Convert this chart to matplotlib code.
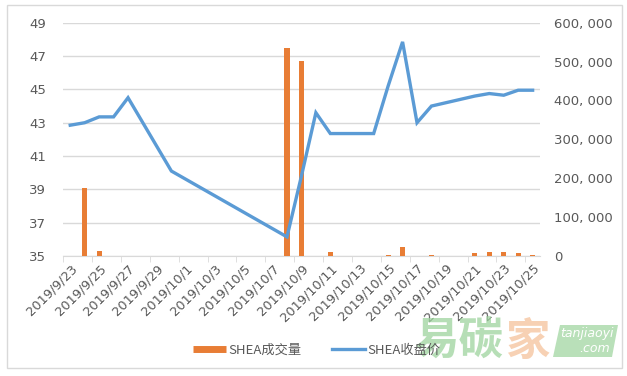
import matplotlib
matplotlib.use("Agg")
import matplotlib.pyplot as plt
import pandas as pd
from matplotlib.lines import Line2D
from matplotlib.patches import Rectangle, Polygon

plt.rcParams["font.family"] = ["Noto Sans CJK SC", "DejaVu Sans"]

# 收盘价 (左轴)
price_dates = ["2019-09-23", "2019-09-24", "2019-09-25", "2019-09-26", "2019-09-27",
               "2019-09-30", "2019-10-08", "2019-10-09", "2019-10-10", "2019-10-11",
               "2019-10-14", "2019-10-15", "2019-10-16", "2019-10-17", "2019-10-18",
               "2019-10-21", "2019-10-22", "2019-10-23", "2019-10-24", "2019-10-25"]
price = [42.85, 43.0, 43.35, 43.35, 44.5,
         40.1, 36.15, 39.8, 43.6, 42.35,
         42.35, 45.2, 47.85, 43.0, 44.0,
         44.6, 44.75, 44.65, 44.95, 44.95]

# 成交量 (右轴)
vol_dates = ["2019-09-24", "2019-09-25", "2019-10-08", "2019-10-09", "2019-10-11",
             "2019-10-15", "2019-10-16", "2019-10-18", "2019-10-21", "2019-10-22",
             "2019-10-23", "2019-10-24", "2019-10-25"]
volume = [174000, 13000, 535000, 501000, 11000,
          4000, 22000, 3000, 8000, 11000,
          11000, 8000, 4000]

left_ticks = [35, 37, 39, 41, 43, 45, 47, 49]
right_ticks = [0, 100000, 200000, 300000, 400000, 500000, 600000]

orange = "#E87D35"
blue = "#5B9BD5"
grey_txt = "#595959"
grid_c = "#D9D9D9"

px = pd.to_datetime(price_dates)
vx = pd.to_datetime(vol_dates)
start, end = pd.Timestamp("2019-09-23"), pd.Timestamp("2019-10-25")
half = pd.Timedelta(hours=12)

fig = plt.figure(figsize=(6.27, 3.76), dpi=100)
ax = fig.add_axes([0.1005, 0.319, 0.7605, 0.6206])
ax2 = ax.twinx()
ax3 = ax.twinx()

# 左轴: 价格刻度与网格
ax.set_ylim(35, 49)
ax.set_yticks(left_ticks)
ax.set_yticklabels([str(t) for t in left_ticks], fontsize=9.5, color=grey_txt,
                   family="DejaVu Sans")
ax.grid(axis="y", color=grid_c, lw=1)
ax.set_axisbelow(True)

# 右轴: 成交量柱
ax2.bar(vx, volume, width=0.36, color=orange, zorder=2)
ax2.set_ylim(0, 600000)
ax2.set_yticks(right_ticks)
ax2.set_yticklabels([f"{t:,}".replace(",", ", ") for t in right_ticks],
                    fontsize=9.5, color=grey_txt, family="DejaVu Sans")

# 收盘价折线
ax3.plot(px, price, color=blue, lw=2.4, solid_joinstyle="miter")
ax3.set_ylim(35, 49)
ax3.axis("off")

for a in (ax, ax2, ax3):
    a.set_xlim(start - half, end + half)
    for s in ("top", "left", "right", "bottom"):
        a.spines[s].set_visible(False)
ax.spines["bottom"].set_visible(True)
ax.spines["bottom"].set_color(grid_c)
ax.tick_params(axis="y", length=0, pad=12)
ax2.tick_params(axis="y", length=0, pad=10)
ax2.tick_params(axis="x", which="both", bottom=False, labelbottom=False)

tick_days = pd.date_range(start, end, freq="2D")
ax.set_xticks(tick_days)
ax.set_xticklabels([f"{d.year}/{d.month}/{d.day}" for d in tick_days],
                   rotation=45, ha="right", va="top", rotation_mode="anchor",
                   fontsize=9.3, color=grey_txt, family="DejaVu Sans")
ax.set_xticks(tick_days - half, minor=True)
ax.tick_params(axis="x", which="major", length=0, pad=4)
ax.tick_params(axis="x", which="minor", length=4, color=grid_c)

# 图例
handles = [Line2D([], [], color=orange, lw=5, solid_capstyle="butt"),
           Line2D([], [], color=blue, lw=2.4)]
fig.legend(handles, ["SHEA成交量", "SHEA收盘价"], loc="center",
           bbox_to_anchor=(0.505, 0.069), ncol=2, frameon=False,
           fontsize=9.5, handlelength=2.5, handletextpad=0.2, columnspacing=2.3,
           labelcolor=grey_txt)

# 外框
fig.patches.append(Rectangle((7 / 627, 1 - 368 / 376), 615 / 627, 363 / 376,
                             transform=fig.transFigure, fill=False,
                             edgecolor=grid_c, lw=1))

# 水印
fig.text(414 / 627, 1 - 342 / 376, "易碳", fontsize=32, color="#9ED49E",
         alpha=0.75, va="center", ha="left", fontweight="bold")
fig.text(505 / 627, 1 - 342 / 376, "家", fontsize=32, color="#F5C29B",
         alpha=0.75, va="center", ha="left", fontweight="bold")
fig.patches.append(Polygon([(553 / 627, 1 - 357 / 376), (560 / 627, 1 - 325 / 376),
                            (618 / 627, 1 - 325 / 376), (612 / 627, 1 - 357 / 376)],
                           closed=True, transform=fig.transFigure,
                           facecolor="#A8D9A8", alpha=0.8, edgecolor="none"))
fig.text(587 / 627, 1 - 334 / 376, "tanjiaoyi", fontsize=9, color="white",
         style="italic", ha="center", va="center", family="DejaVu Sans")
fig.text(595 / 627, 1 - 348 / 376, ".com", fontsize=9, color="white",
         style="italic", ha="center", va="center", family="DejaVu Sans")

fig.savefig("out.png", dpi=100)
